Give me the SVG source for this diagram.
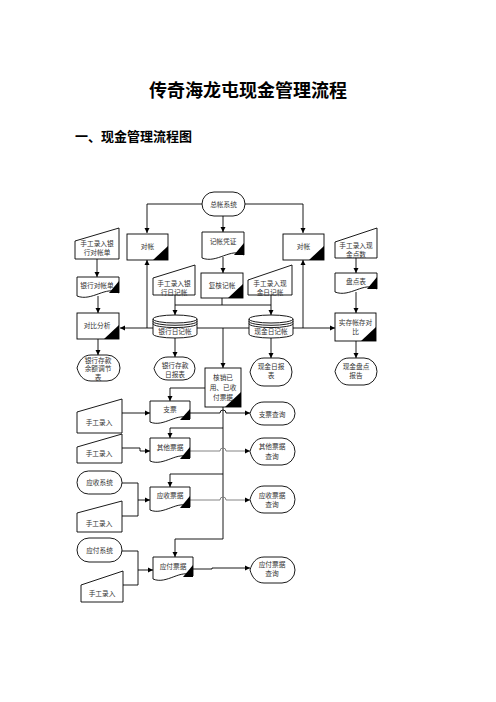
<svg xmlns="http://www.w3.org/2000/svg" width="496" height="702" viewBox="0 0 496 702">
<style>
.t{font-family:"Liberation Serif","Noto Sans CJK SC",serif;font-size:6.7px;fill:#333;text-anchor:middle;dominant-baseline:central}
.title{font-family:"Noto Sans CJK SC",sans-serif;font-weight:bold;fill:#000}
.s{fill:#fff;stroke:#000;stroke-width:0.9}
.tri{fill:#000;stroke:none}
.c{fill:none;stroke:#000;stroke-width:0.9}
.g{fill:none;stroke:#777;stroke-width:0.9}
</style>
<defs>
<marker id="a" markerWidth="6" markerHeight="6" refX="5" refY="3" orient="auto" markerUnits="userSpaceOnUse">
<path d="M0,0.5 L5,3 L0,5.5 Z" fill="#000"/>
</marker>
</defs>
<rect width="496" height="702" fill="#fff"/>
<text class="title" x="248" y="97" font-size="18" text-anchor="middle">传奇海龙屯现金管理流程</text>
<text class="title" x="75" y="141" font-size="13">一、现金管理流程图</text>

<g id="connectors">
<path class="c" d="M202,204 H147 V233" marker-end="url(#a)"/>
<path class="c" d="M245,204 H303 V233" marker-end="url(#a)"/>
<path class="c" d="M223,216 V232" marker-end="url(#a)"/>
<path class="c" d="M97,259 V277" marker-end="url(#a)"/>
<path class="c" d="M98,296 V313" marker-end="url(#a)"/>
<path class="c" d="M98,339 V355" marker-end="url(#a)"/>
<path class="c" d="M223,257 V273" marker-end="url(#a)"/>
<path class="c" d="M222,298 V305 M175,305 H271"/>
<path class="c" d="M175,295 V315" marker-end="url(#a)"/>
<path class="c" d="M271,295 V315" marker-end="url(#a)"/>
<path class="c" d="M153,328 H120" marker-end="url(#a)"/>
<path class="c" d="M147,328 V260" marker-end="url(#a)"/>
<path class="c" d="M293,328 H335" marker-end="url(#a)"/>
<path class="c" d="M303,328 V260" marker-end="url(#a)"/>
<path class="c" d="M197,328 H249"/>
<path class="c" d="M223,328 V368" marker-end="url(#a)"/>
<path class="c" d="M175,338 V357" marker-end="url(#a)"/>
<path class="c" d="M271,338 V358" marker-end="url(#a)"/>
<path class="c" d="M356,258 V273" marker-end="url(#a)"/>
<path class="c" d="M356,292 V313" marker-end="url(#a)"/>
<path class="c" d="M356,341 V358" marker-end="url(#a)"/>
<path class="c" d="M205,388 H170 V401" marker-end="url(#a)"/>
<path class="c" d="M223,407 V539 H175 V557" marker-end="url(#a)"/>
<path class="c" d="M223,428 H170 V438" marker-end="url(#a)"/>
<path class="c" d="M223,474 H170 V487" marker-end="url(#a)"/>
<path class="c" d="M190,413 H220 A3,3 0 0 1 226,413 H250" marker-end="url(#a)"/>
<path class="g" d="M190,451 H220 A3,3 0 0 1 226,451 H250" marker-end="url(#a)"/>
<path class="g" d="M190,500 H220 A3,3 0 0 1 226,500 H250" marker-end="url(#a)"/>
<path class="c" d="M193,569 H212 V568 H250" marker-end="url(#a)"/>
<path class="c" d="M122,413 H150" marker-end="url(#a)"/>
<path class="c" d="M122,448 H140 V451 H150" marker-end="url(#a)"/>
<path class="c" d="M122,483 H138 V516 H122 M138,500 H150" marker-end="url(#a)"/>
<path class="c" d="M122,551 H138 V585 H123 M138,570 H153" marker-end="url(#a)"/>
</g>

<g id="n_zongzhang">
<rect class="s" x="202" y="192" width="43" height="24" rx="12"/>
<text class="t" x="223.5" y="204">总帐系统</text>
</g>
<g id="n_duizhang_l">
<rect class="s" x="127" y="234" width="41" height="26"/>
<path class="tri" d="M153,260 L168,246 L168,260 Z"/>
<text class="t" x="147.5" y="246">对帐</text>
</g>
<g id="n_duizhang_r">
<rect class="s" x="283" y="234" width="41" height="26"/>
<path class="tri" d="M309,260 L324,246 L324,260 Z"/>
<text class="t" x="303.5" y="246">对帐</text>
</g>
<g id="n_jizhangpingzheng">
<path class="s" d="M202,232 H244 V255 C231,247 217,264 202,258 Z"/>
<path class="tri" d="M234,255 L244,243 L244,255 Z"/>
<text class="t" x="223" y="241">记帐凭证</text>
</g>
<g id="n_shougong_yhdzd">
<path class="s" d="M75,241 L119,228 L119,259 L75,259 Z"/>
<text class="t" x="97" y="243">手工录入银</text>
<text class="t" x="97" y="252.5">行对帐单</text>
</g>
<g id="n_shougong_xjds">
<path class="s" d="M335,242 L377,228 L377,258 L335,258 Z"/>
<text class="t" x="356" y="245">手工录入现</text>
<text class="t" x="356" y="254">金点数</text>
</g>
<g id="n_yinhangduizhangdan">
<path class="s" d="M77,277 H119 V293 C106,285 92,302 77,296 Z"/>
<path class="tri" d="M109,293 L119,281 L119,293 Z"/>
<text class="t" x="97" y="285">银行对帐单</text>
</g>
<g id="n_pandianbiao">
<path class="s" d="M335,273 H377 V289 C364,281 350,298 335,292 Z"/>
<path class="tri" d="M367,289 L377,277 L377,289 Z"/>
<text class="t" x="356" y="281">盘点表</text>
</g>
<g id="n_shougong_yhrjz">
<path class="s" d="M153,278 L195,265 L195,295 L153,295 Z"/>
<text class="t" x="174" y="283">手工录入银</text>
<text class="t" x="174" y="292">行日记帐</text>
</g>
<g id="n_fuhejizhang">
<rect class="s" x="201" y="273" width="42" height="25"/>
<path class="tri" d="M228,298 L243,284 L243,298 Z"/>
<text class="t" x="222" y="285">复核记帐</text>
</g>
<g id="n_shougong_xjrjz">
<path class="s" d="M248,280 L292,265 L292,295 L248,295 Z"/>
<text class="t" x="270" y="283">手工录入现</text>
<text class="t" x="270" y="292">金日记帐</text>
</g>
<g id="n_duibifenxi">
<rect class="s" x="77" y="313" width="42" height="26"/>
<path class="tri" d="M104,339 L119,325 L119,339 Z"/>
<text class="t" x="97" y="325">对比分析</text>
</g>
<g id="n_yinhangrijizhang">
<path class="s" d="M153,319 A22,4 0 0 1 197,319 V334 A22,4 0 0 1 153,334 Z"/>
<path class="c" d="M153,319 A22,4 0 0 0 197,319 M153,321.3 A22,4 0 0 0 197,321.3 M153,323.6 A22,4 0 0 0 197,323.6"/>
<text class="t" x="175" y="331">银行日记帐</text>
</g>
<g id="n_xianjinrijizhang">
<path class="s" d="M249,319 A22,4 0 0 1 293,319 V334 A22,4 0 0 1 249,334 Z"/>
<path class="c" d="M249,319 A22,4 0 0 0 293,319 M249,321.3 A22,4 0 0 0 293,321.3 M249,323.6 A22,4 0 0 0 293,323.6"/>
<text class="t" x="271" y="331">现金日记帐</text>
</g>
<g id="n_shicunduibi">
<rect class="s" x="335" y="313" width="41" height="28"/>
<path class="tri" d="M361,341 L376,327 L376,341 Z"/>
<text class="t" x="355.5" y="322">实存帐存对</text>
<text class="t" x="355.5" y="331">比</text>
</g>
<g id="n_yuetiaojiebiao">
<path class="s" d="M77,368 C79,361 83,355 91,355 H107 A13,13 0 0 1 107,381 H91 C83,381 79,375 77,368 Z"/>
<text class="t" x="98" y="360">银行存款</text>
<text class="t" x="98" y="368.5">余额调节</text>
<text class="t" x="98" y="377">表</text>
</g>
<g id="n_yinhangribaobiao">
<path class="s" d="M154,368.5 C156,362 160,357 168,357 H183 A12,11.5 0 0 1 183,380 H168 C160,380 156,375 154,368.5 Z"/>
<text class="t" x="175" y="365">银行存款</text>
<text class="t" x="175" y="374">日报表</text>
</g>
<g id="n_xianjinribaobiao">
<path class="s" d="M250,372 C252,364 256,358 264,358 H279 A13,14 0 0 1 279,386 H264 C256,386 252,380 250,372 Z"/>
<text class="t" x="271" y="366">现金日报</text>
<text class="t" x="271" y="375">表</text>
</g>
<g id="n_xianjinpandianbaogao">
<path class="s" d="M335,371.5 C337,364 341,358 349,358 H364 A13,13.5 0 0 1 364,385 H349 C341,385 337,379 335,371.5 Z"/>
<text class="t" x="356" y="366">现金盘点</text>
<text class="t" x="356" y="375">报告</text>
</g>
<g id="n_hexiao">
<rect class="s" x="205" y="368" width="36" height="39"/>
<path class="tri" d="M225,407 L241,392 L241,407 Z"/>
<text class="t" x="223" y="377">核销已</text>
<text class="t" x="223" y="387">用、已收</text>
<text class="t" x="223" y="397">付票据</text>
</g>
<g id="n_shougong1">
<path class="s" d="M77,412 L122,399 L122,433 L77,433 Z"/>
<text class="t" x="99" y="422">手工录入</text>
</g>
<g id="n_zhipiao">
<path class="s" d="M150,401 H190 V419 C178,411 164,428 150,422 Z"/>
<path class="tri" d="M180,420 L190,409 L190,420 Z"/>
<text class="t" x="170" y="409">支票</text>
</g>
<g id="n_zhipiaochaxun">
<path class="s" d="M250,413.5 C252,407 256,402 264,402 H283 A12,11.5 0 0 1 283,425 H264 C256,425 252,420 250,413.5 Z"/>
<text class="t" x="272" y="414">支票查询</text>
</g>
<g id="n_shougong2">
<path class="s" d="M77,447 L122,434 L122,463 L77,463 Z"/>
<text class="t" x="99" y="453">手工录入</text>
</g>
<g id="n_qitapiaoju">
<path class="s" d="M150,438 H190 V458 C178,450 164,467 150,461 Z"/>
<path class="tri" d="M180,459 L190,447 L190,459 Z"/>
<text class="t" x="170" y="447">其他票据</text>
</g>
<g id="n_qitapiaojuchaxun">
<path class="s" d="M250,451.5 C252,444 256,438 264,438 H282 A13,13.5 0 0 1 282,465 H264 C256,465 252,459 250,451.5 Z"/>
<text class="t" x="272" y="446">其他票据</text>
<text class="t" x="272" y="456">查询</text>
</g>
<g id="n_yingshouxitong">
<rect class="s" x="77" y="471" width="45" height="23" rx="11.5"/>
<text class="t" x="99.5" y="482.5">应收系统</text>
</g>
<g id="n_yingshoupiaoju">
<path class="s" d="M150,487 H190 V507 C178,499 164,516 150,510 Z"/>
<path class="tri" d="M180,508 L190,496 L190,508 Z"/>
<text class="t" x="170" y="495">应收票据</text>
</g>
<g id="n_yingshoupiaojuchaxun">
<path class="s" d="M250,499.5 C252,492 256,486 264,486 H282 A13,13.5 0 0 1 282,513 H264 C256,513 252,507 250,499.5 Z"/>
<text class="t" x="272" y="495">应收票据</text>
<text class="t" x="272" y="504">查询</text>
</g>
<g id="n_shougong3">
<path class="s" d="M77,513 L122,501 L122,532 L77,532 Z"/>
<text class="t" x="99" y="523">手工录入</text>
</g>
<g id="n_yingfuxitong">
<rect class="s" x="77" y="538" width="45" height="24" rx="12"/>
<text class="t" x="99.5" y="550">应付系统</text>
</g>
<g id="n_yingfupiaoju">
<path class="s" d="M153,557 H193 V576 C181,568 167,585 153,579 Z"/>
<path class="tri" d="M183,577 L193,565 L193,577 Z"/>
<text class="t" x="173" y="566">应付票据</text>
</g>
<g id="n_yingfupiaojuchaxun">
<path class="s" d="M250,570 C252,563 256,557 264,557 H282 A13,13 0 0 1 282,583 H264 C256,583 252,577 250,570 Z"/>
<text class="t" x="272" y="564">应付票据</text>
<text class="t" x="272" y="573">查询</text>
</g>
<g id="n_shougong4">
<path class="s" d="M81,585 L123,571 L123,602 L81,602 Z"/>
<text class="t" x="102" y="593">手工录入</text>
</g>
</svg>
